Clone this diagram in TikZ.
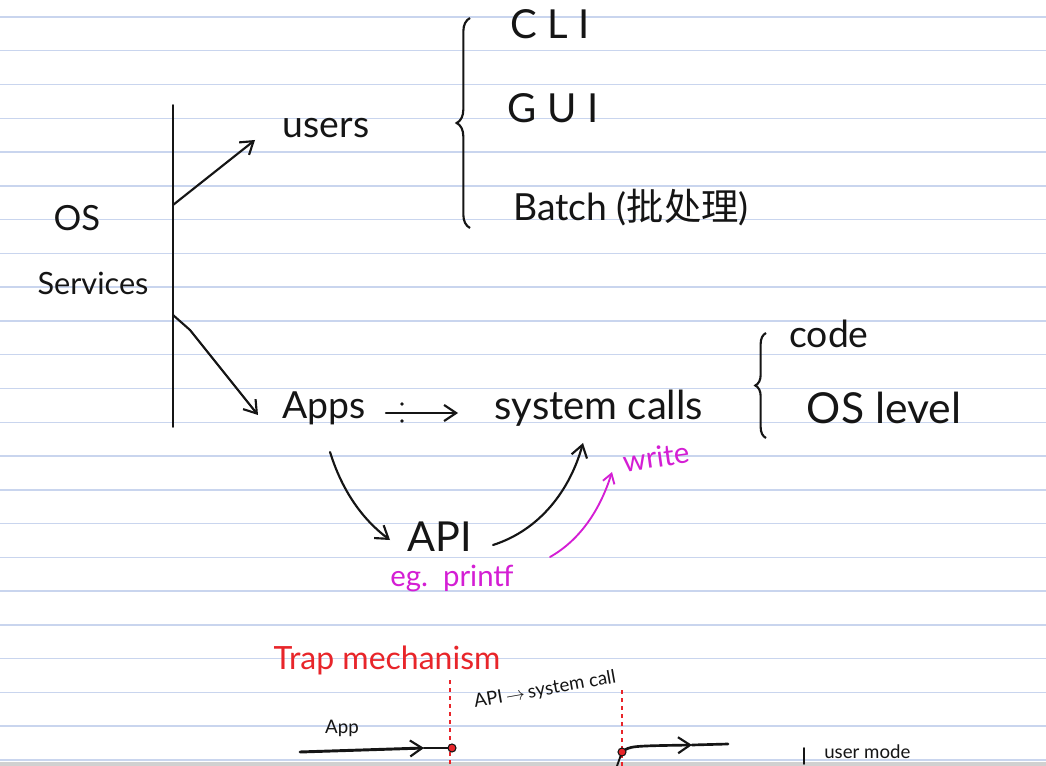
\documentclass[tikz,border=0pt]{standalone}
\usepackage{fontspec}
\setmainfont{Lato}
\newfontfamily\cjk{Noto Sans CJK SC}
\usetikzlibrary{arrows.meta,decorations.pathreplacing}
\definecolor{paperline}{HTML}{C9D5EE}
\definecolor{ink}{HTML}{151515}
\definecolor{pen}{HTML}{D41ED4}
\definecolor{redpen}{HTML}{E8252A}
\begin{document}
\begin{tikzpicture}[x=0.75pt,y=-0.75pt,
  hand/.style={text=ink, inner sep=0pt, font=\fontsize{28}{32}\selectfont},
  pentext/.style={text=pen, inner sep=0pt, font=\fontsize{22}{26}\selectfont},
  redtext/.style={text=redpen, inner sep=0pt, font=\fontsize{24}{28}\selectfont},
  smalltext/.style={text=ink, inner sep=0pt, font=\fontsize{14}{16}\selectfont},
  stroke/.style={draw=ink, line width=1.6pt, line cap=round, line join=round},
  arr/.style={stroke, -{Straight Barb[length=9pt,width=12pt,line width=1.6pt]}},
  penarr/.style={draw=pen, line width=1.4pt, line cap=round, -{Straight Barb[length=7pt,width=9pt,line width=1.4pt]}},
  bracestyle/.style={draw=ink, line width=1.6pt, decorate, decoration={brace, amplitude=10pt}},
  reddash/.style={draw=redpen, line width=1pt, dashed},
  reddot/.style={fill=redpen, draw=ink, line width=0.8pt}
]
\useasboundingbox (0,0) rectangle (1046,766);
\fill[white] (0,0) rectangle (1046,766);
\foreach \k in {0,...,22} \draw[paperline, line width=1.1pt] ({0},{17+33.77*\k}) -- ({1046},{17+33.77*\k});
\fill[black!18] (0,762) rectangle (1046,766);

% top group
\node[hand, font=\fontsize{30}{34}\selectfont] (cli) at (550,24) {C L I};
\node[hand, font=\fontsize{30}{34}\selectfont] (gui) at (553,108) {G U I};
\node[hand, anchor=west] (batch) at (513,208) {Batch ({\cjk 批处理})};
\draw[bracestyle] (470,228) -- (470,18);

\node[hand] (users) at (326,128) {users};
\node[hand, font=\fontsize{26}{30}\selectfont] (os) at (77,218) {OS};
\node[hand, font=\fontsize{23}{27}\selectfont] (services) at (93,283) {Services};

\coordinate (vtop) at (173,105);
\coordinate (vbot) at (173,427);
\draw[stroke, line width=1.2pt] (vtop) -- (vbot);
\coordinate (b1) at (173,205);
\coordinate (u1) at (255,140);
\draw[arr] (b1) -- (u1);
\coordinate (b2) at (173,315);
\coordinate (b2k) at (190,330);
\coordinate (a1) at (258,415);
\draw[arr] (b2) -- (b2k) -- (a1);

% apps row
\node[hand] (apps) at (324,408) {Apps};
\node[hand, font=\fontsize{30}{34}\selectfont] (syscalls) at (599,408) {system calls};
\coordinate (d1) at (386,413);
\coordinate (d2) at (458,413);
\draw[arr] (d1) -- (d2);
\fill[ink] (402,404) circle (1.8);
\fill[ink] (402,421) circle (1.8);

\node[hand] (code) at (829,334) {code};
\node[hand, font=\fontsize{32}{36}\selectfont] (oslevel) at (884,408) {OS level};
\draw[bracestyle, decoration={amplitude=8pt}] (766,438) -- (766,333);

% API
\node[hand, font=\fontsize{31}{34}\selectfont] (api) at (440,537) {API};
\node[pentext] (printf) at (452,578) {eg.\ \ printf};
\node[pentext, rotate=8] (write) at (656,457) {write};
\coordinate (c1) at (330,452);
\coordinate (c2) at (390,540);
\draw[arr] (c1) .. controls (345,500) and (370,525) .. (c2);
\coordinate (e1) at (493,545);
\coordinate (e2) at (583,443);
\draw[arr] (e1) .. controls (540,530) and (570,490) .. (e2);
\coordinate (m1) at (550,557);
\coordinate (m2) at (612,472);
\draw[penarr] (m1) .. controls (580,540) and (600,510) .. (m2);

% trap mechanism
\node[redtext] (trap) at (387,660) {Trap mechanism};
\node[smalltext, rotate=10] (apisys) at (545,690) {API\,\(\rightarrow\)\,system call};
\node[smalltext] (app) at (342,728) {App};
\coordinate (t1) at (450,680);
\coordinate (t2) at (450,766);
\draw[reddash] (t1) -- (t2);
\coordinate (s1) at (622,690);
\coordinate (s2) at (622,766);
\draw[reddash] (s1) -- (s2);
\coordinate (p0) at (300,752);
\coordinate (pa) at (424,748);
\coordinate (p1) at (452,748);
\draw[arr, line width=2.2pt] (p0) -- (pa);
\draw[stroke, line width=2.2pt] (pa) -- (p1);
\fill[reddot] (p1) circle (4);
\coordinate (q0) at (622,752);
\coordinate (qa) at (692,745);
\coordinate (q1) at (728,744);
\coordinate (q2) at (617,766);
\draw[arr, line width=2pt] (q0) .. controls (630,746) .. (qa);
\draw[stroke, line width=2pt] (qa) -- (q1);
\draw[stroke, line width=1.4pt] (q0) -- (q2);
\fill[reddot] (q0) circle (4);
\coordinate (um1) at (804,748);
\coordinate (um2) at (804,764);
\draw[stroke, line width=1.2pt] (um1) -- (um2);
\node[smalltext, anchor=west] (usermode) at (824,752) {user mode};
\end{tikzpicture}
\end{document}
